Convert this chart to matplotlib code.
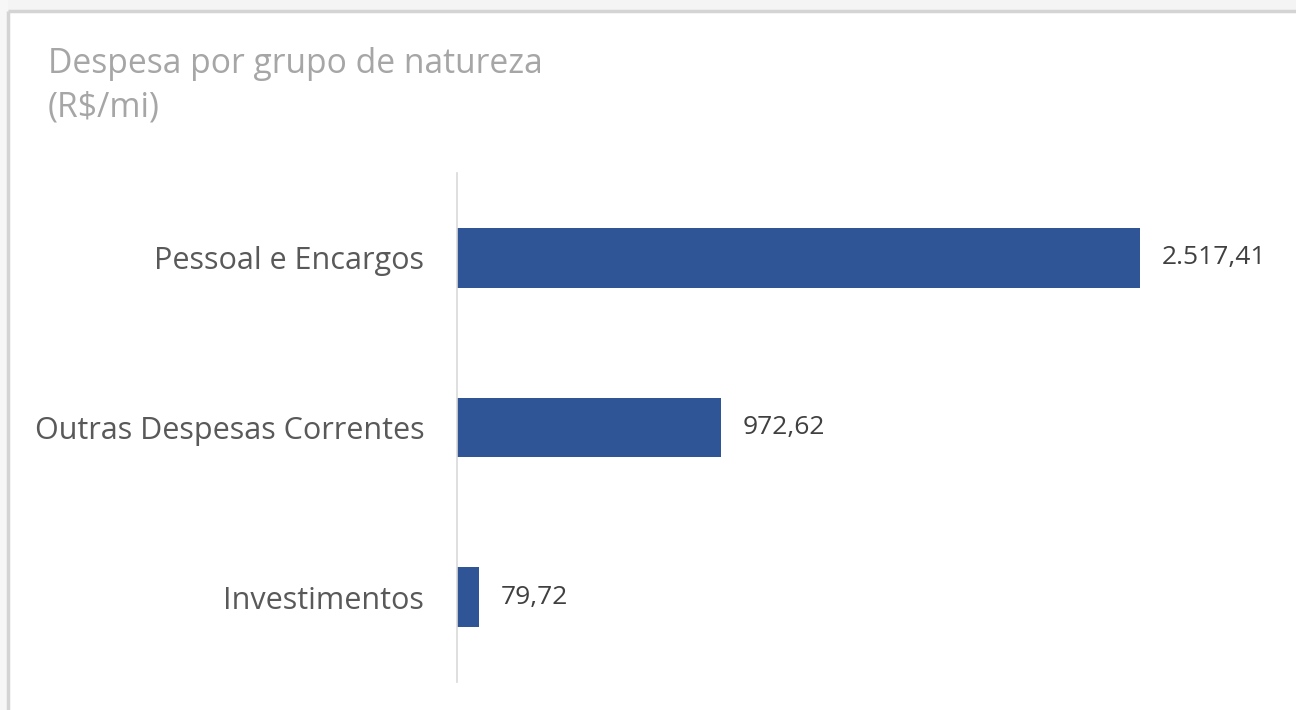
import matplotlib.pyplot as plt
from matplotlib.patches import Rectangle
from matplotlib.lines import Line2D

# chart data
categories = ['Pessoal e Encargos', 'Outras Despesas Correntes', 'Investimentos']
values = [2517.41, 972.62, 79.72]
value_labels = ['2.517,41', '972,62', '79,72']

plt.rcParams['font.family'] = ['Open Sans', 'DejaVu Sans']

W, H = 1296, 710
fig = plt.figure(figsize=(W / 100, H / 100), dpi=100, facecolor='white')

# screenshot frame: gray strip on top and left, thin border lines
bx, by = 8 / W, 1 - 11 / H
fig.patches.append(Rectangle((0, by), 1, 1 - by, transform=fig.transFigure,
                             facecolor='#f4f4f4', edgecolor='none', zorder=-2))
fig.patches.append(Rectangle((0, 0), bx, 1, transform=fig.transFigure,
                             facecolor='#f7f7f7', edgecolor='none', zorder=-2))
fig.lines.append(Line2D([bx, 1.02], [by, by], transform=fig.transFigure,
                        color='#d4d4d4', linewidth=2.5, solid_capstyle='butt'))
fig.lines.append(Line2D([bx, bx], [-0.02, by], transform=fig.transFigure,
                        color='#d4d4d4', linewidth=2.5, solid_capstyle='butt'))

# plot area: axis line at x=457, from y=173 to y=682
left, right = 457 / W, 1271 / W
top, bottom = 1 - 173 / H, 1 - 682 / H
ax = fig.add_axes([left, bottom, right - left, top - bottom])
ax.set_facecolor('none')

ypos = list(range(len(categories)))
ax.barh(ypos, values, height=0.35, color='#2f5597', zorder=2)
ax.set_ylim(len(categories) - 0.5, -0.5)
ax.set_xlim(0, 3000)

for y, v, lab in zip(ypos, values, value_labels):
    ax.text(v + 80, y, lab, va='center', ha='left', fontsize=19, color='#404040')

ax.set_yticks(ypos)
ax.set_yticklabels(categories, fontsize=22, color='#595959')
ax.tick_params(axis='y', length=0, pad=23.5)
ax.set_xticks([])
for s in ['top', 'right', 'bottom']:
    ax.spines[s].set_visible(False)
ax.spines['left'].set_color('#d9d9d9')
ax.spines['left'].set_linewidth(1.2)

title_lines = ['Despesa por grupo de natureza', '(R$/mi)']
for i, line in enumerate(title_lines):
    fig.text(48 / W, 1 - (64 + 44 * i) / H, line, ha='left', va='center',
             fontsize=24.2, color='#a6a6a6')

fig.savefig('out.png', dpi=100, facecolor=fig.get_facecolor())
